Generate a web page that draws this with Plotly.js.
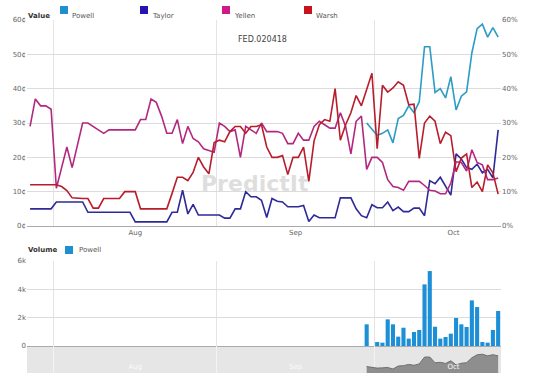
<!DOCTYPE html>
<html><head><meta charset="utf-8">
<script src="https://cdn.plot.ly/plotly-3.0.1.min.js"></script>
<style>html,body{margin:0;padding:0;background:#fff}#chart{width:536px;height:376px}</style>
</head><body><div id="chart"></div>
<script>
// ---------- data ----------
const startDate = [2017, 6, 27];   // 27 Jul 2017 (month 0-based), one point per day
const nDays = 90;
const seriesNames = ['Powell', 'Taylor', 'Yellen', 'Warsh'];
const lineColors = ['#2a9cc6', '#2e2a98', '#b3287f', '#b81d2b'];
const swatchColors = ['#1f8fd0', '#2514ad', '#cf1a8c', '#c8121e'];

const taylor = [5,5,5,5,5, 7,7,7,7,7, 7,4,4,4,4, 4,4,4,4,4,
  1.2,1.2,1.2,1.2,1.2, 1.2,1.2,4,4,10.4, 3.5,6.3,3.2,3.2,3.2, 3.2,3.2,2.3,2.3,5,
  5,10,8.5,8.5,7.5, 2.5,8,7.2,7,5.6, 5.6,5.6,6,1.3,3.2, 2.4,2.4,2.4,2.4,8.2,
  8.2,8.2,5,3,2.4, 6.2,5.3,5.3,7,4.5, 5.5,4.2,4.2,5.2,5.2, 3,13.2,12.3,14.2,11.5,
  9,21,19.5,17,16.5, 18,15.5,16.5,14,28];
const yellen = [29,37,35,35,34, 11,17,23,17,24, 30,30,29,28,27, 28,28,28,28,28,
  28,31,31,37,36, 32,27,27,31,24, 29,25.5,24.5,22.5,22, 21.5,30,29,27.5,28,
  20,29,28,27,30, 27.5,27.5,27.5,27,24, 24,27,25,25,29, 30.5,29.5,28.5,28.5,33,
  29,21,30.5,32,16.5, 20,20,18.5,13.5,11.5, 11.2,10.4,13,13,13, 11.8,10.4,10.2,9.4,9.4,
  12.5,18.7,18.5,16,22.2, 18.5,17.8,13.5,13.5,14];
const warsh = [12,12,12,12,12, 12,11.5,10.3,8.2,8, 8,8,5.2,5.2,8, 8,8,8,10,10,
  10,5,5,5,5, 5,5,9.5,14.2,14.2, 13.2,15.6,20,17.2,15.2, 24.3,25,24.5,27.5,29,
  29,27,29,29,29.5, 23,20,20,20.5,15, 20,20,23,13,24.8, 29.5,31,30.5,40,25,
  29.5,33,38,35,39.5, 44.5,22.5,41,39,40.2, 42,41,35.3,35.5,19.7, 30,32,30.5,24,27.3,
  26.3,15.8,19.8,21,11.2, 12.8,10,17.8,15.5,9.3];
const powellStartIndex = 64;   // Powell market opens on day 64
const powell = [30,28.3,26.4,27,28, 24.2,31.3,32.2,35,33, 36.2,52.2,52.2,38.9,40,
  37.3,43.5,33.8,37.8,39.1, 50.4,57.5,58.8,55,57.8, 55];
const powellVolume = [1530,0,280,235,1880, 1530,660,1290,520,990, 1130,4350,5290,1360,520,
  635,870,1980,1530,1340, 3220,2750,280,235,1130, 2470];

const priceTicks = [0,10,20,30,40,50,60];
const priceTickTextLeft = ['0¢','10¢','20¢','30¢','40¢','50¢','60¢'];
const priceTickTextRight = ['0%','10%','20%','30%','40%','50%','60%'];
const volumeTickVals = [0,2000,4000,6000];
const volumeTickText = ['0','2k','4k','6k'];

// ---------- helpers ----------
function pad(n){return (n<10?'0':'')+n;}
const dates = [];
for (let i = 0; i < nDays; i++) {
  const d = new Date(Date.UTC(startDate[0], startDate[1], startDate[2] + i, 12));
  dates.push(d.getUTCFullYear()+'-'+pad(d.getUTCMonth()+1)+'-'+pad(d.getUTCDate())+' 12:00');
}
const powellDates = dates.slice(powellStartIndex, powellStartIndex + powell.length);

const W = 536, H = 376, L = 27, R = 35, T = 20, B = 3;
const pw = W - L - R, ph = H - T - B;
const px = x => (x - L) / pw;
const py = y => 1 - (y - T) / ph;

const FONT = 'DejaVu Sans, Verdana, sans-serif';
const seriesData = {Powell: [powellDates, powell], Taylor: [dates, taylor], Yellen: [dates, yellen], Warsh: [dates, warsh]};
// Warsh is drawn against the right-hand (percent) axis, which has the same 0-60 scale
const seriesAxis = {Powell: 'y', Taylor: 'y', Yellen: 'y', Warsh: 'y4'};

const traces = seriesNames.map((n, k) => ({
  type: 'scatter', mode: 'lines', name: n,
  x: seriesData[n][0], y: seriesData[n][1],
  xaxis: 'x', yaxis: seriesAxis[n],
  line: {color: lineColors[k], width: 1.6},
  hoverinfo: 'skip'
}));
traces.push({
  type: 'bar', name: 'Powell volume', x: powellDates, y: powellVolume,
  xaxis: 'x2', yaxis: 'y2', width: 0.78 * 86400000,
  marker: {color: '#1c8fd6', line: {width: 0}}, hoverinfo: 'skip'
});
traces.push({
  type: 'scatter', mode: 'lines', name: 'nav', x: powellDates, y: powell,
  xaxis: 'x3', yaxis: 'y3', fill: 'tozeroy', fillcolor: '#8e8e8e',
  line: {color: '#6f6f6f', width: 1}, hoverinfo: 'skip'
});

const xRange = ['2017-07-26 22:00', '2017-10-25 01:00'];
const gridC = '#dcdcdc', vgridC = '#e4e4e4';

const annotations = [
  {text: 'FED.020418', x: px(262), y: py(33), xref: 'paper', yref: 'paper', showarrow: false,
   font: {family: FONT, size: 8, color: '#444'}},
  {text: '<b>PredictIt</b>', x: px(255), y: py(183), xref: 'paper', yref: 'paper', showarrow: false,
   font: {family: FONT, size: 22, color: 'rgba(190,190,190,0.5)'}},
  {text: '<b>Value</b>', x: px(26), y: py(10), xref: 'paper', yref: 'paper', xanchor: 'left', showarrow: false,
   font: {family: FONT, size: 7, color: '#333'}},
  {text: '<b>Volume</b>', x: px(26), y: py(250), xref: 'paper', yref: 'paper', xanchor: 'left', showarrow: false,
   font: {family: FONT, size: 7, color: '#333'}},
  {text: seriesNames[0], x: px(77), y: py(250), xref: 'paper', yref: 'paper', xanchor: 'left', showarrow: false,
   font: {family: FONT, size: 7, color: '#555'}}
];
const shapes = [
  {type: 'rect', xref: 'paper', yref: 'paper', x0: 0, x1: 1, y0: 0, y1: py(346),
   fillcolor: '#e6e6e6', line: {width: 0}, layer: 'below'},
  {type: 'rect', xref: 'paper', yref: 'paper', x0: px(65), x1: px(73), y0: py(254), y1: py(246),
   fillcolor: swatchColors[0], line: {width: 0}}
];
const legendSwatchX = [60, 140, 222, 304];
seriesNames.forEach((n, k) => {
  const sx = legendSwatchX[k];
  shapes.push({type: 'rect', xref: 'paper', yref: 'paper', x0: px(sx), x1: px(sx + 8), y0: py(14), y1: py(6),
    fillcolor: swatchColors[k], line: {width: 0}});
  annotations.push({text: n, x: px(sx + 10), y: py(10), xref: 'paper', yref: 'paper', xanchor: 'left',
    showarrow: false, font: {family: FONT, size: 7, color: '#555'}});
});

const tickFont = {family: FONT, size: 7, color: '#666'};
const layout = {
  width: W, height: H,
  margin: {l: L, r: R, t: T, b: B, pad: 0},
  paper_bgcolor: '#fff', plot_bgcolor: 'rgba(0,0,0,0)',
  showlegend: false,
  font: {family: FONT},
  xaxis: {domain: [0, 1], anchor: 'y', type: 'date', range: xRange, dtick: 'M1', tick0: '2017-08-01',
    ticklabelmode: 'period', tickformat: '%b', showgrid: true, gridcolor: vgridC, ticks: '',
    showline: true, linecolor: '#aaa', linewidth: 1, zeroline: false, tickfont: tickFont, fixedrange: true},
  yaxis: {domain: [py(226), py(20)], anchor: 'x', range: [0, 60], tickmode: 'array', tickvals: priceTicks,
    ticktext: priceTickTextLeft, gridcolor: gridC, zeroline: false, ticks: '', tickfont: tickFont, fixedrange: true},
  yaxis4: {overlaying: 'y', side: 'right', anchor: 'x', range: [0, 60], tickmode: 'array', tickvals: priceTicks,
    ticktext: priceTickTextRight, showgrid: false, zeroline: false, ticks: '', tickfont: tickFont, fixedrange: true},
  xaxis2: {domain: [0, 1], anchor: 'y2', type: 'date', matches: 'x', dtick: 'M1', tick0: '2017-08-01',
    showticklabels: false, showgrid: true, gridcolor: vgridC, ticks: '', showline: true, linecolor: '#aaa',
    zeroline: false, fixedrange: true},
  yaxis2: {domain: [py(346), py(261)], anchor: 'x2', range: [0, 6000], tickmode: 'array', tickvals: volumeTickVals,
    ticktext: volumeTickText, gridcolor: gridC, zeroline: false, ticks: '', tickfont: tickFont, fixedrange: true},
  xaxis3: {domain: [0, 1], anchor: 'y3', type: 'date', matches: 'x', dtick: 'M1', tick0: '2017-08-01',
    ticklabelmode: 'period', ticklabelposition: 'inside', tickformat: '%b', showgrid: true, gridcolor: '#f3f3f3',
    ticks: '', showline: false, zeroline: false, tickfont: {family: FONT, size: 7, color: '#fafafa'}, fixedrange: true},
  yaxis3: {domain: [0, py(346)], anchor: 'x3', range: [15, 78], visible: false, fixedrange: true},
  annotations: annotations,
  shapes: shapes
};

Plotly.newPlot('chart', traces, layout, {staticPlot: true, displayModeBar: false});
</script>
</body></html>
